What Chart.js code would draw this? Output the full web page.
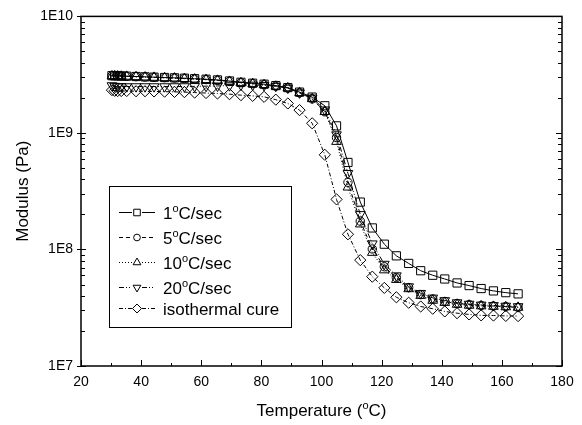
<!DOCTYPE html>
<html>
<head>
<meta charset="utf-8">
<title>Modulus vs Temperature</title>
<script src="https://cdn.jsdelivr.net/npm/chart.js"></script>
<style>
  html, body { margin: 0; padding: 0; background: #fff; }
  canvas { display: block; }
</style>
</head>
<body>
<canvas id="modulus-chart" width="582" height="425"></canvas>
<script>
const modulusChart = document.getElementById("modulus-chart");

const FONT = "'Liberation Sans', Arial, sans-serif";

// sample temperatures (°C), shared by every run
const temperature = [30.3, 31.2, 32.2, 33.4, 35.2, 38.3, 41.3, 44.3, 47.8, 51.1,
  54.4, 57.8, 61.6, 65.4, 69.4, 73.2, 77.1, 80.9, 84.8, 88.8,
  92.7, 96.9, 101.1, 105.0, 108.8, 112.9, 116.9, 120.9, 124.9, 129.0,
  133.0, 137.0, 141.0, 145.1, 149.1, 153.1, 157.2, 161.3, 165.4];

// storage modulus (Pa)
const rate1 = [3.10e9, 3.10e9, 3.09e9, 3.08e9, 3.07e9, 3.05e9, 3.03e9, 3.01e9, 2.99e9, 2.97e9,
  2.95e9, 2.92e9, 2.89e9, 2.85e9, 2.79e9, 2.72e9, 2.67e9, 2.62e9, 2.55e9, 2.45e9,
  2.24e9, 2.03e9, 1.71e9, 1.15e9, 5.58e8, 2.55e8, 1.53e8, 1.11e8, 8.82e7, 7.59e7,
  6.57e7, 6.01e7, 5.58e7, 5.16e7, 4.90e7, 4.62e7, 4.41e7, 4.26e7, 4.16e7];
const rate5 = [3.10e9, 3.10e9, 3.09e9, 3.08e9, 3.06e9, 3.04e9, 3.02e9, 3.00e9, 2.98e9, 2.96e9,
  2.93e9, 2.90e9, 2.87e9, 2.83e9, 2.77e9, 2.70e9, 2.65e9, 2.60e9, 2.52e9, 2.43e9,
  2.21e9, 1.96e9, 1.52e9, 9.12e8, 3.77e8, 1.75e8, 1.01e8, 7.11e7, 5.73e7, 4.71e7,
  4.10e7, 3.76e7, 3.58e7, 3.44e7, 3.37e7, 3.31e7, 3.27e7, 3.24e7, 3.18e7];
const rate10 = [3.08e9, 3.08e9, 3.07e9, 3.06e9, 3.05e9, 3.03e9, 3.01e9, 2.99e9, 2.97e9, 2.95e9,
  2.92e9, 2.89e9, 2.86e9, 2.82e9, 2.76e9, 2.69e9, 2.64e9, 2.59e9, 2.51e9, 2.43e9,
  2.21e9, 1.96e9, 1.52e9, 8.43e8, 3.42e8, 1.65e8, 9.41e7, 6.66e7, 5.51e7, 4.59e7,
  4.02e7, 3.65e7, 3.50e7, 3.37e7, 3.31e7, 3.27e7, 3.24e7, 3.21e7, 3.18e7];
const rate20 = [2.55e9, 2.52e9, 2.50e9, 2.50e9, 2.50e9, 2.50e9, 2.50e9, 2.50e9, 2.50e9, 2.50e9,
  2.50e9, 2.51e9, 2.52e9, 2.53e9, 2.55e9, 2.58e9, 2.58e9, 2.56e9, 2.52e9, 2.43e9,
  2.21e9, 2.00e9, 1.58e9, 9.67e8, 4.50e8, 2.00e8, 1.12e8, 7.49e7, 5.96e7, 4.80e7,
  4.21e7, 3.84e7, 3.65e7, 3.50e7, 3.40e7, 3.34e7, 3.31e7, 3.27e7, 3.24e7];
const isothermal = [2.33e9, 2.30e9, 2.29e9, 2.29e9, 2.29e9, 2.28e9, 2.28e9, 2.27e9, 2.26e9, 2.25e9,
  2.24e9, 2.22e9, 2.20e9, 2.18e9, 2.15e9, 2.11e9, 2.08e9, 2.04e9, 1.93e9, 1.79e9,
  1.57e9, 1.21e9, 6.49e8, 2.69e8, 1.35e8, 8.10e7, 5.84e7, 4.68e7, 3.89e7, 3.49e7,
  3.24e7, 3.10e7, 2.94e7, 2.84e7, 2.77e7, 2.72e7, 2.71e7, 2.69e7, 2.68e7];

// "^" marks a superscript character
const seriesLabels = ["1^oC/sec", "5^oC/sec", "10^oC/sec", "20^oC/sec", "isothermal cure"];
const xTicks = [20, 40, 60, 80, 100, 120, 140, 160, 180];
const yTicks = [1e7, 1e8, 1e9, 1e10];

const styles = [
  { dash: [], pointStyle: "rect", radius: 5.8, rotation: 0 },
  { dash: [4, 3], pointStyle: "circle", radius: 4.2, rotation: 0 },
  { dash: [1, 2], pointStyle: "triangle", radius: 5.6, rotation: 0 },
  { dash: [5, 2, 1, 2, 1, 2], pointStyle: "triangle", radius: 5.6, rotation: 180 },
  { dash: [4, 2, 1, 2], pointStyle: "rectRot", radius: 5.6, rotation: 0 },
];

const seriesData = [rate1, rate5, rate10, rate20, isothermal];

const datasets = seriesData.map((values, i) => ({
  label: seriesLabels[i],
  data: values.map((v, j) => ({ x: temperature[j], y: v })),
  borderColor: "#000",
  borderWidth: 1,
  borderDash: styles[i].dash,
  tension: 0,
  pointStyle: styles[i].pointStyle,
  pointRadius: styles[i].radius,
  pointRotation: styles[i].rotation,
  pointBorderColor: "#000",
  pointBorderWidth: 1,
  pointBackgroundColor: "rgba(0,0,0,0)",
}));

function drawSupText(ctx, text, x, y, size, align) {
  const pieces = [];
  text.split("^").forEach((p, i) => {
    if (i === 0) pieces.push([p, false]);
    else { pieces.push([p[0], true]); pieces.push([p.slice(1), false]); }
  });
  const big = size + "px " + FONT;
  const small = Math.round(size * 0.65) + "px " + FONT;
  let w = 0;
  pieces.forEach(([s, sup]) => { ctx.font = sup ? small : big; w += ctx.measureText(s).width; });
  let cx = align === "center" ? x - w / 2 : x;
  ctx.textAlign = "left";
  ctx.textBaseline = "alphabetic";
  pieces.forEach(([s, sup]) => {
    ctx.font = sup ? small : big;
    ctx.fillText(s, cx, sup ? y - size * 0.42 : y);
    cx += ctx.measureText(s).width;
  });
}

// box, inward ticks, axis titles and the legend
const decorations = {
  id: "decorations",
  afterDraw(chart) {
    const { ctx, chartArea: a, scales: { x, y } } = chart;
    ctx.save();
    ctx.strokeStyle = "#000";
    ctx.fillStyle = "#000";
    ctx.setLineDash([]);

    ctx.lineWidth = 1;
    ctx.beginPath();
    for (let v = 20; v <= 180; v += 10) {
      const px = Math.round(x.getPixelForValue(v)) + 0.5;
      const len = v % 20 === 0 ? 6 : 3;
      ctx.moveTo(px, a.bottom);
      ctx.lineTo(px, a.bottom - len);
    }
    for (let d = 7; d <= 10; d++) {
      for (let m = 1; m <= 9; m++) {
        if (d === 10 && m > 1) break;
        const py = Math.round(y.getPixelForValue(m * Math.pow(10, d))) + 0.5;
        if (m === 1) {
          ctx.moveTo(a.left - 4, py); ctx.lineTo(a.left + 5, py);
          ctx.moveTo(a.right, py); ctx.lineTo(a.right - 6, py);
        } else {
          ctx.moveTo(a.left, py); ctx.lineTo(a.left + 4, py);
          ctx.moveTo(a.right, py); ctx.lineTo(a.right - 4, py);
        }
      }
    }
    ctx.stroke();

    ctx.lineWidth = 1.5;
    ctx.strokeRect(a.left, a.top, a.right - a.left, a.bottom - a.top);

    // axis titles
    drawSupText(ctx, "Temperature (^oC)", (a.left + a.right) / 2, 416, 17, "center");
    ctx.save();
    ctx.translate(28, (a.top + a.bottom) / 2);
    ctx.rotate(-Math.PI / 2);
    drawSupText(ctx, "Modulus (Pa)", 0, 0, 17, "center");
    ctx.restore();

    // legend
    ctx.lineWidth = 1;
    ctx.fillStyle = "#fff";
    ctx.fillRect(109.5, 186.5, 182, 141);
    ctx.strokeRect(109.5, 186.5, 182, 141);
    const baselines = [219, 244, 269, 294, 315];
    seriesLabels.forEach((label, i) => {
      const st = styles[i];
      const ly = baselines[i] - 6.5;
      ctx.strokeStyle = "#000";
      ctx.setLineDash(st.dash);
      ctx.beginPath();
      ctx.moveTo(119, ly); ctx.lineTo(132, ly);
      ctx.moveTo(142, ly); ctx.lineTo(155, ly);
      ctx.stroke();
      ctx.setLineDash([]);
      ctx.fillStyle = "#fff";
      Chart.helpers.drawPoint(ctx, {
        pointStyle: st.pointStyle, radius: st.radius * 0.8,
        rotation: st.rotation, borderWidth: 1,
      }, 137, ly);
      ctx.fillStyle = "#000";
      drawSupText(ctx, label, 163, baselines[i], 17, "left");
    });
    ctx.restore();
  },
};

new Chart(modulusChart, {
  type: "line",
  data: { datasets: datasets },
  options: {
    responsive: false,
    animation: false,
    devicePixelRatio: 1,
    layout: { padding: { left: 0, top: 14, right: 20, bottom: 0 } },
    plugins: { legend: { display: false }, tooltip: { enabled: false } },
    scales: {
      x: {
        type: "linear",
        min: 20,
        max: 180,
        grid: { display: false, drawTicks: false },
        border: { display: false },
        afterBuildTicks: (scale) => { scale.ticks = xTicks.map((v) => ({ value: v })); },
        afterFit: (scale) => { scale.height = 59; },
        ticks: { padding: 8, color: "#000", font: { family: FONT, size: 14 }, maxRotation: 0 },
      },
      y: {
        type: "logarithmic",
        min: 1e7,
        max: 1e10,
        grid: { display: false, drawTicks: false },
        border: { display: false },
        afterBuildTicks: (scale) => { scale.ticks = yTicks.map((v) => ({ value: v })); },
        afterFit: (scale) => { scale.width = 81; },
        ticks: {
          padding: 8,
          color: "#000",
          font: { family: FONT, size: 14 },
          callback: (value) => "1E" + Math.round(Math.log10(value)),
        },
      },
    },
  },
  plugins: [decorations],
});
</script>
</body>
</html>
